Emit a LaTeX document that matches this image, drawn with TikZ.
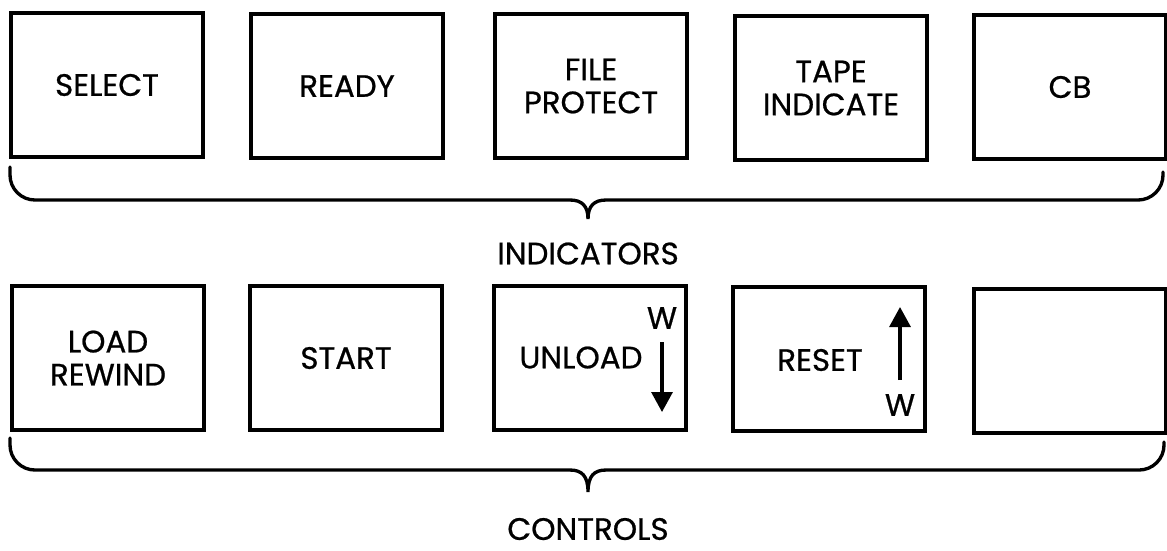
\documentclass[tikz,border=0pt]{standalone}
\usepackage{fontspec}
\setmainfont{Poppins}[FakeBold=0.7]
\usetikzlibrary{arrows.meta, calc}
\tikzset{
  every picture/.style={font=\fontsize{8.8}{9.4}\selectfont, line width=0.95pt},
  panel/.style={draw, align=center, inner sep=2pt, minimum width=1.92cm, minimum height=1.44cm},
  brace/.style={draw, line width=0.95pt, line cap=round},
  warrow/.style={-{Triangle[width=0.21cm, length=0.2cm]}, line width=0.9pt},
  caption/.style={inner sep=0pt},
}

\begin{document}
\begin{tikzpicture}
  \useasboundingbox (0,0) rectangle (11.67,-5.50);
  % indicators
  \node[panel] (select)  at (1.07,-0.85)  {SELECT};
  \node[panel] (ready)   at (3.47,-0.86)  {READY};
  \node[panel] (filepr)  at (5.91,-0.86)  {FILE\\PROTECT};
  \node[panel] (tapeind) at (8.31,-0.88)  {TAPE\\INDICATE};
  \node[panel] (cb)      at (10.70,-0.87) {CB};
  \draw[brace] (0.10,-1.67) -- (0.10,-1.75) arc[start angle=180, end angle=270, radius=0.25]
    -- (5.70,-2.00) .. controls (5.82,-2.00) and (5.88,-2.06) .. (5.88,-2.19)
    .. controls (5.88,-2.06) and (5.94,-2.00) .. (6.06,-2.00)
    -- (11.38,-2.00) arc[start angle=270, end angle=360, radius=0.25] -- (11.63,-1.72);
  \node[caption] (indic) at (5.88,-2.535) {INDICATORS};
  % controls
  \node[panel] (loadrw)  at (1.08,-3.58)  {LOAD\\REWIND};
  \node[panel] (start)   at (3.46,-3.58)  {START};
  \node[panel] (unload)  at (5.90,-3.58)  {};
  \node[panel] (reset)   at (8.29,-3.59)  {};
  \node[panel] (spare)   at (10.70,-3.61) {};
  \node[caption] (unloadtxt) at (5.81,-3.575) {UNLOAD};
  \node[caption] (resettxt)  at (8.20,-3.60)  {RESET};
  \node[caption] (uw) at (6.62,-3.18) {W};
  \node[caption] (rw) at (9.00,-4.05) {W};
  \coordinate (ua) at (6.62,-3.42);
  \coordinate (ub) at (6.62,-4.12);
  \coordinate (ra) at (9.00,-3.80);
  \coordinate (rb) at (9.00,-3.07);
  \draw[warrow] (ua) -- (ub);
  \draw[warrow] (ra) -- (rb);
  \draw[brace] (0.10,-4.38) -- (0.10,-4.45) arc[start angle=180, end angle=270, radius=0.25]
    -- (5.70,-4.70) .. controls (5.82,-4.70) and (5.88,-4.76) .. (5.88,-4.92)
    .. controls (5.88,-4.76) and (5.94,-4.70) .. (6.06,-4.70)
    -- (11.39,-4.70) arc[start angle=270, end angle=360, radius=0.25] -- (11.64,-4.42);
  \node[caption] (contr) at (5.88,-5.29) {CONTROLS};
\end{tikzpicture}
\end{document}
